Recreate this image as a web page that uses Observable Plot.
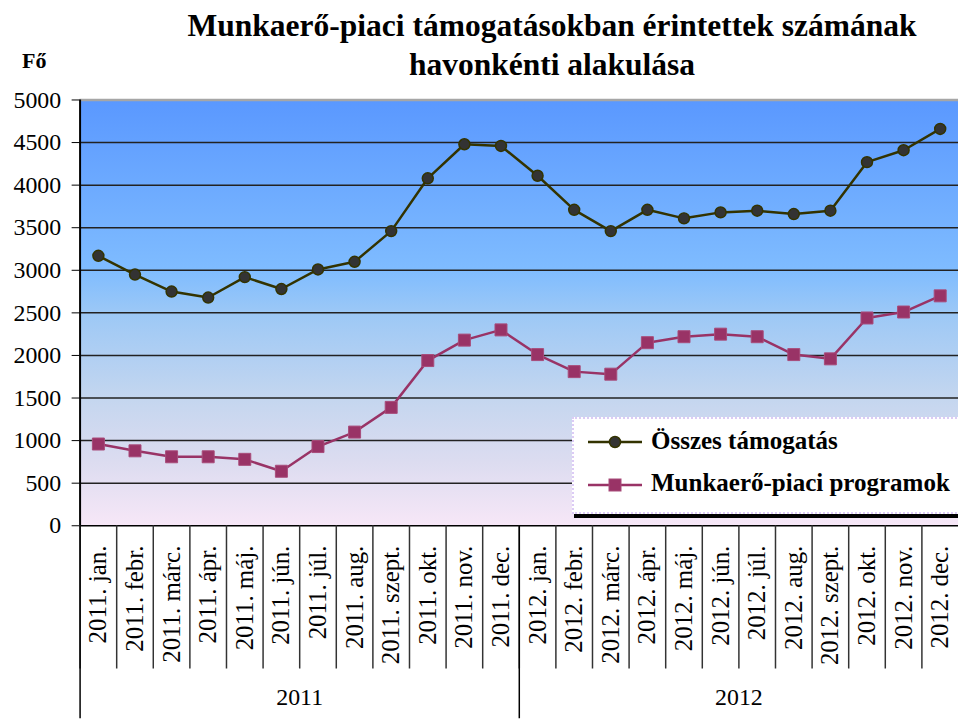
<!DOCTYPE html>
<html>
<head>
<meta charset="utf-8">
<script src="https://cdn.jsdelivr.net/npm/d3@7"></script>
<script src="https://cdn.jsdelivr.net/npm/@observablehq/plot@0.6"></script>
<style>
html, body { margin: 0; padding: 0; background: #fff; overflow: hidden; }
#wrap { position: relative; width: 958px; height: 722px; overflow: hidden; font-family: 'Liberation Serif', 'Times New Roman', serif; color: #000; }
#chart { position: absolute; left: 0; top: 0; }
#chart svg, #chart svg text { font-family: 'Liberation Serif', 'Times New Roman', serif !important; }
#title { position: absolute; left: 150px; width: 804px; top: 6px; text-align: center; font-weight: bold; font-size: 31.5px; line-height: 39px; }
#unit { position: absolute; left: 22px; top: 50px; font-weight: bold; font-size: 22px; line-height: 22px; }
#legend { position: absolute; left: 572px; top: 417px; width: 400px; height: 93px; background: #fff; border: 2px dotted #dccbf5; }
#legendShadow { position: absolute; left: 574px; top: 514px; width: 400px; height: 4px; background: #000; }
.lg-sw { position: absolute; left: 586px; width: 58px; height: 20px; }
.lg-tx { position: absolute; left: 651px; font-weight: bold; font-size: 25px; line-height: 25px; white-space: nowrap; }
</style>
</head>
<body>
<div id="wrap">
  <div id="chart"></div>
  <div id="title">Munkaerő-piaci támogatásokban érintettek számának<br>havonkénti alakulása</div>
  <div id="unit">Fő</div>
  <div id="legend"></div>
  <div id="legendShadow"></div>
  <svg class="lg-sw" id="sw1" style="top:432px"></svg>
  <div class="lg-tx" id="tx1" style="top:428px"></div>
  <svg class="lg-sw" id="sw2" style="top:475px"></svg>
  <div class="lg-tx" id="tx2" style="top:470px"></div>
</div>
<script>
// ---- data ----
const labels = [
  "2011. jan.", "2011. febr.", "2011. márc.", "2011. ápr.", "2011. máj.", "2011. jún.",
  "2011. júl.", "2011. aug.", "2011. szept.", "2011. okt.", "2011. nov.", "2011. dec.",
  "2012. jan.", "2012. febr.", "2012. márc.", "2012. ápr.", "2012. máj.", "2012. jún.",
  "2012. júl.", "2012. aug.", "2012. szept.", "2012. okt.", "2012. nov.", "2012. dec."
];
const years = ["2011", "2012"];
const osszes = [3170, 2950, 2750, 2680, 2920, 2780, 3010, 3100, 3460, 4080, 4480, 4460,
                4110, 3710, 3460, 3710, 3610, 3680, 3700, 3660, 3700, 4270, 4410, 4660];
const programok = [960, 880, 810, 810, 780, 640, 930, 1100, 1390, 1940, 2180, 2300,
                   2010, 1810, 1780, 2150, 2220, 2250, 2220, 2010, 1960, 2440, 2510, 2700];
const yTicks = [0, 500, 1000, 1500, 2000, 2500, 3000, 3500, 4000, 4500, 5000];
const seriesNames = ["Összes támogatás", "Munkaerő-piaci programok"];

// ---- styles ----
const C1 = "#333300", C1fill = "#333333";
const C2 = "#993366", C2stroke = "#a84c7a";
const W = 963, mL = 80, mR = 0;
const step = (W - mL - mR) / labels.length;
const FONT = "'Liberation Serif', 'Times New Roman', serif";

const rows = labels.map((m, i) => ({m, a: osszes[i], b: programok[i]}));

const stops = [
  [0, "#5a98ff"], [0.4, "#7fbcff"], [0.5, "#9cc8f6"],
  [0.7, "#c4d6ef"], [0.85, "#dcdcf0"], [1, "#f7e7f7"]
];
const defs = () => {
  const d = d3.create("svg:defs");
  const g = d.append("linearGradient").attr("id", "bgGrad")
    .attr("x1", 0).attr("y1", 0).attr("x2", 0).attr("y2", 1);
  stops.forEach(([o, c]) => g.append("stop").attr("offset", o).attr("stop-color", c));
  return d.node();
};

const chart = Plot.plot({
  width: W, height: 722,
  marginLeft: mL, marginRight: mR, marginTop: 100, marginBottom: 194,
  style: {fontFamily: FONT, fontSize: "24px", color: "#000", background: "transparent", overflow: "visible"},
  x: {type: "point", domain: labels, padding: 0.5, align: 0.5, round: false},
  y: {domain: [0, 5000]},
  marks: [
    defs,
    Plot.frame({fill: "url(#bgGrad)", stroke: "none"}),
    Plot.ruleY(yTicks.filter(v => v > 0 && v < 5000), {stroke: "#222", strokeWidth: 1.5}),
    Plot.ruleY([5000], {stroke: "#a6a6a6", strokeWidth: 2.5}),
    Plot.ruleY([0], {stroke: "#000", strokeWidth: 1.5}),
    Plot.ruleX([labels[0]], {dx: -step / 2, stroke: "#000", strokeWidth: 2}),
    Plot.axisY({ticks: yTicks, tickSize: 8, tickPadding: 11, tickFormat: d => String(d), label: null, fontSize: 24}),
    Plot.axisX({tickSize: 0, tickPadding: 20, tickRotate: -90, label: null, fontSize: 25}),
    Plot.axisX({tickSize: 144, tickFormat: null, label: null, dx: -step / 2, stroke: "#333", strokeWidth: 1.5}),
    Plot.axisX({ticks: [labels[0], labels[12]], tickSize: 194, tickFormat: null, label: null, dx: -step / 2, stroke: "#000", strokeWidth: 1.5}),
    Plot.text(years, {x: (d, i) => labels[i * 12 + 5], text: d => d, dx: step / 2, frameAnchor: "bottom", dy: 180, fontSize: 24}),
    Plot.line(rows, {x: "m", y: "a", stroke: C1, strokeWidth: 2.5}),
    Plot.dot(rows, {x: "m", y: "a", r: 5.5, fill: C1fill, stroke: C1, strokeWidth: 1.5}),
    Plot.line(rows, {x: "m", y: "b", stroke: C2, strokeWidth: 2.5}),
    Plot.dot(rows, {x: "m", y: "b", symbol: "square", r: 6.8, fill: C2, stroke: C2stroke, strokeWidth: 1})
  ]
});
chart.setAttribute("font-family", FONT);
document.getElementById("chart").appendChild(chart);

// ---- legend ----
const sw1 = d3.select("#sw1");
sw1.append("line").attr("x1", 2).attr("x2", 56).attr("y1", 10).attr("y2", 10).attr("stroke", C1).attr("stroke-width", 2.5);
sw1.append("circle").attr("cx", 29).attr("cy", 10).attr("r", 5.5).attr("fill", C1fill).attr("stroke", C1).attr("stroke-width", 1.5);
const sw2 = d3.select("#sw2");
sw2.append("line").attr("x1", 2).attr("x2", 56).attr("y1", 10).attr("y2", 10).attr("stroke", C2).attr("stroke-width", 2.5);
sw2.append("rect").attr("x", 23).attr("y", 4).attr("width", 12).attr("height", 12).attr("fill", C2).attr("stroke", C2stroke).attr("stroke-width", 1);
document.getElementById("tx1").textContent = seriesNames[0];
document.getElementById("tx2").textContent = seriesNames[1];
</script>
</body>
</html>
